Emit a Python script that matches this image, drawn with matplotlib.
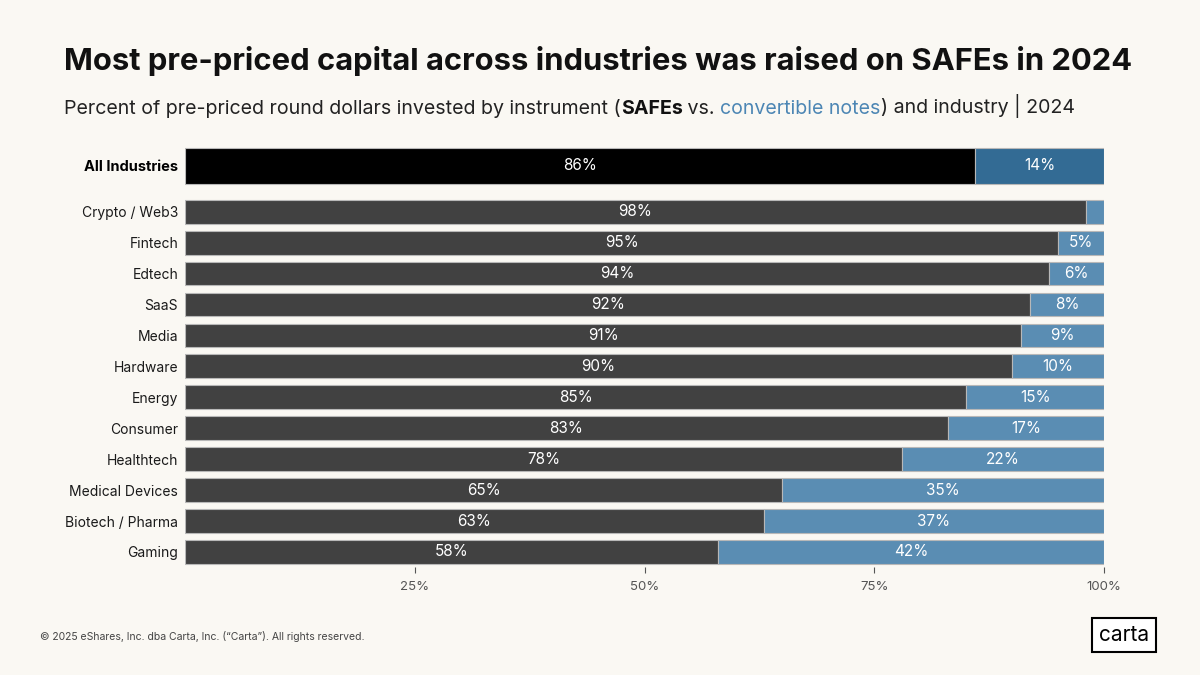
import matplotlib.pyplot as plt

plt.rcParams['font.family'] = ['Inter', 'DejaVu Sans']

categories = ['All Industries', 'Crypto / Web3', 'Fintech', 'Edtech', 'SaaS', 'Media',
              'Hardware', 'Energy', 'Consumer', 'Healthtech', 'Medical Devices',
              'Biotech / Pharma', 'Gaming']
safes = [86, 98, 95, 94, 92, 91, 90, 85, 83, 78, 65, 63, 58]
notes = [14, 2, 5, 6, 8, 9, 10, 15, 17, 22, 35, 37, 42]
tick_vals = [25, 50, 75, 100]
tick_labels = ['25%', '50%', '75%', '100%']

bg = '#FAF8F3'
fig = plt.figure(figsize=(12, 6.75), dpi=100, facecolor=bg)
ax = fig.add_axes([0.1542, 0.1594, 0.92 - 0.1542, 0.6323])
ax.set_facecolor(bg)

# first row sits apart from the rest and is a bit taller
ypos = [-1.48] + list(range(len(categories) - 1))
heights = [1.16] + [0.77] * (len(categories) - 1)
safe_cols = ['#000000'] + ['#414141'] * (len(categories) - 1)
note_cols = ['#336B94'] + ['#5A8DB3'] * (len(categories) - 1)

ax.barh(ypos, safes, height=heights, color=safe_cols, edgecolor='#B8B8B8', linewidth=0.8)
ax.barh(ypos, notes, left=safes, height=heights, color=note_cols, edgecolor='#B8B8B8', linewidth=0.8)

for y, s, n in zip(ypos, safes, notes):
    ax.text(s / 2, y, f'{s}%', color='white', ha='center', va='center', fontsize=11)
    if n >= 5:
        ax.text(s + n / 2, y, f'{n}%', color='white', ha='center', va='center', fontsize=11)

ax.set_xlim(0, 100)
ax.set_ylim(11.5, -2.3)
ax.set_yticks(ypos)
ax.set_yticklabels(categories)
for i, lbl in enumerate(ax.get_yticklabels()):
    lbl.set_fontsize(10)
    lbl.set_color('#1A1A1A')
    if i == 0:
        lbl.set_fontweight('bold')
        lbl.set_fontsize(10.5)
        lbl.set_color('black')
ax.tick_params(axis='y', length=0, pad=5)
ax.set_xticks(tick_vals)
ax.set_xticklabels(tick_labels)
ax.tick_params(axis='x', length=4, color='#555555', labelsize=9.5, labelcolor='#555555', pad=6)
for sp in ax.spines.values():
    sp.set_visible(False)

fig.text(64 / 1200, 1 - 61 / 675, 'Most pre-priced capital across industries was raised on SAFEs in 2024',
         fontsize=22.3, fontweight='bold', color='#111111', va='center', ha='left')

# subtitle in pieces so the key words can be styled
t = fig.text(64 / 1200, 1 - 108 / 675, 'Percent of pre-priced round dollars invested by instrument (',
             fontsize=14.1, color='#222222', va='center', ha='left')
pieces = [('SAFEs', 'bold', '#111111'), (' vs. ', 'normal', '#222222'),
          ('convertible notes', 'normal', '#4C86B4'), (') and industry | 2024', 'normal', '#222222')]
prev = t
for txt, w, c in pieces:
    prev = ax.annotate(txt, xy=(1, 0), xycoords=prev, xytext=(0, 0), textcoords='offset points',
                       fontsize=14.1, fontweight=w, color=c, va='bottom', ha='left', annotation_clip=False)

fig.text(40 / 1200, 1 - 636 / 675, '\u00a9 2025 eShares, Inc. dba Carta, Inc. (\u201cCarta\u201d). All rights reserved.',
         fontsize=7.5, color='#444444', va='center', ha='left')
fig.text(1124 / 1200, 1 - 635 / 675, 'carta', fontsize=15, color='black', va='center', ha='center',
         bbox=dict(boxstyle='square,pad=0.35', facecolor='white', edgecolor='black', linewidth=1.5))

fig.savefig('out.png', dpi=100, facecolor=bg)
